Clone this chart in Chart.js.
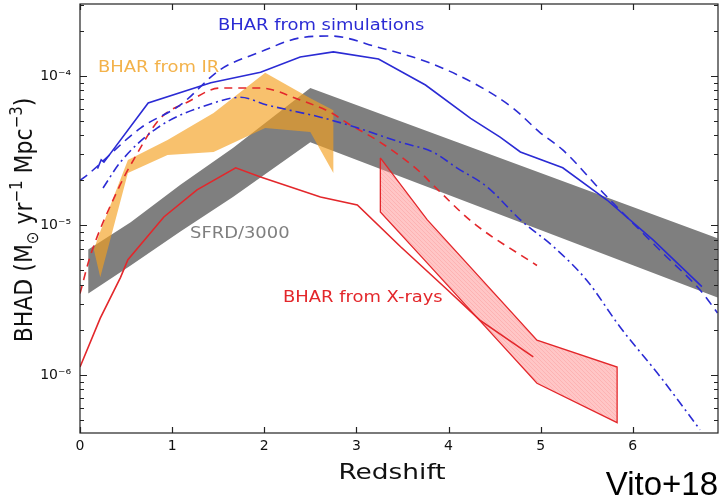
<!DOCTYPE html>
<html>
<head>
<meta charset="utf-8">
<script src="https://cdn.jsdelivr.net/npm/chart.js@4.4.1/dist/chart.umd.min.js"></script>
<style>
  html, body { margin: 0; padding: 0; background: #fff; }
  #wrap { width: 720px; height: 497px; position: relative; }
</style>
</head>
<body>
<div id="wrap"><canvas id="bhadChart"></canvas></div>
<script>
// axis ticks
const zTicks = [0, 1, 2, 3, 4, 5, 6];
const yTicks = [1e-6, 1e-5, 1e-4];
const yTickLabels = ['10⁻⁶', '10⁻⁵', '10⁻⁴'];

// BHAR from simulations (blue): solid, dashed, dash-dot
const simSolidZ = [0.19, 0.23, 0.26, 0.74, 1.42, 1.96, 2.39, 2.75, 3.24, 3.75, 4.24, 4.56, 4.78, 5.24, 5.72, 6.22, 6.75];
const simSolidV = [2.4e-5, 2.75e-5, 2.65e-5, 6.6e-5, 9.0e-5, 1.06e-4, 1.34e-4, 1.45e-4, 1.30e-4, 8.7e-5, 5.2e-5, 3.9e-5, 3.1e-5, 2.43e-5, 1.48e-5, 8.0e-6, 3.9e-6];

const simDashZ = [0.0, 0.08, 0.66, 1.09, 1.52, 1.96, 2.39, 2.72, 3.23, 3.80, 4.31, 4.70, 4.99, 5.24, 5.68, 6.33, 6.73, 6.92];
const simDashV = [2.0e-5, 2.18e-5, 4.5e-5, 6.4e-5, 1.10e-4, 1.45e-4, 1.80e-4, 1.85e-4, 1.56e-4, 1.22e-4, 8.7e-5, 6.1e-5, 4.2e-5, 3.2e-5, 1.65e-5, 6.5e-6, 3.7e-6, 2.6e-6];

const simDotZ = [0.25, 0.44, 0.84, 1.45, 1.74, 2.03, 2.61, 3.01, 3.48, 3.83, 4.09, 4.42, 4.78, 5.14, 5.50, 5.86, 6.30, 6.73];
const simDotV = [1.78e-5, 2.66e-5, 4.5e-5, 6.6e-5, 7.2e-5, 6.4e-5, 5.3e-5, 4.5e-5, 3.6e-5, 3.1e-5, 2.43e-5, 1.81e-5, 1.09e-5, 7.2e-6, 4.3e-6, 2.1e-6, 9.7e-7, 4.3e-7];

// red dashed curve
const redDashZ = [0.0, 0.11, 0.41, 0.58, 0.87, 1.17, 1.52, 1.96, 2.39, 2.72, 2.90, 3.26, 3.69, 3.83, 4.27, 4.96];
const redDashV = [3.5e-6, 6.2e-6, 1.73e-5, 2.74e-5, 5.2e-5, 6.7e-5, 8.3e-5, 8.3e-5, 6.9e-5, 5.7e-5, 4.85e-5, 3.6e-5, 2.28e-5, 1.87e-5, 1.04e-5, 5.4e-6];

// BHAR from X-rays (red solid) and its high-z band
const xrayZ = [0.0, 0.22, 0.44, 0.52, 0.91, 1.27, 1.69, 1.96, 2.61, 3.01, 3.48, 3.99, 4.34, 4.92];
const xrayV = [1.13e-6, 2.4e-6, 4.5e-6, 5.9e-6, 1.14e-5, 1.73e-5, 2.43e-5, 2.11e-5, 1.55e-5, 1.37e-5, 7.2e-6, 3.7e-6, 2.33e-6, 1.32e-6];

const xbandZ = [3.26, 3.77, 4.96, 5.83];
const xbandHi = [2.83e-5, 1.09e-5, 1.71e-6, 1.13e-6];
const xbandLo = [1.23e-5, 5.6e-6, 8.8e-7, 4.8e-7];

// SFRD/3000 band (gray)
const sfrdZ = [0.09, 0.55, 1.09, 1.66, 2.50, 6.92];
const sfrdHi = [6.9e-6, 1.05e-5, 1.87e-5, 3.3e-5, 8.3e-5, 8.2e-6];
const sfrdLo = [3.5e-6, 5.4e-6, 9.1e-6, 1.55e-5, 3.6e-5, 3.3e-6];

// BHAR from IR band (orange)
const irZ = [0.15, 0.22, 0.52, 0.95, 1.45, 2.01, 2.50, 2.75];
const irHi = [6.9e-6, 9.1e-6, 2.74e-5, 3.73e-5, 5.66e-5, 1.05e-4, 7.1e-5, 5.9e-5];
const irLo = [6.9e-6, 4.5e-6, 2.24e-5, 2.96e-5, 3.1e-5, 4.49e-5, 4.22e-5, 2.24e-5];

const BLUE = '#2b2bd4';
const RED = '#e3272b';

function pts(zs, vs) {
    return zs.map((z, i) => ({x: z, y: vs[i]}));
}

// closed outline: upper edge forward, lower edge back
function band(zs, lo, hi) {
    const up = pts(zs, hi);
    const down = pts(zs, lo).reverse();
    return up.concat(down, [up[0]]);
}

function hatchPattern() {
    const c = document.createElement('canvas');
    c.width = 4; c.height = 4;
    const g = c.getContext('2d');
    g.fillStyle = 'rgba(255,120,120,0.42)';
    g.fillRect(0, 0, 4, 4);
    g.strokeStyle = 'rgba(245,90,90,0.18)';
    g.lineWidth = 1;
    g.beginPath();
    g.moveTo(0, 0); g.lineTo(4, 4);
    g.stroke();
    return g.createPattern(c, 'repeat');
}

function lineSet(data, color, dash, smooth) {
    return {
        data: data,
        borderColor: color,
        borderWidth: 1.6,
        borderDash: dash,
        cubicInterpolationMode: smooth ? 'monotone' : 'default',
        pointRadius: 0,
        fill: false,
        order: 1
    };
}

function stretchText(ctx, text, x, y, sx) {
    ctx.save();
    ctx.translate(x, y);
    ctx.scale(sx, 1);
    ctx.fillText(text, 0, 0);
    ctx.restore();
}

// keep the plot box where the reference has it
function noPad(s) {
    s.paddingTop = 0;
    s.paddingBottom = 0;
    s.paddingLeft = 0;
    s.paddingRight = 0;
}

const frame = {
    id: 'frame',
    afterDatasetsDraw(chart) {
        const {ctx, chartArea: a, scales: {x, y}} = chart;
        ctx.save();
        ctx.strokeStyle = '#222';
        ctx.lineWidth = 1.2;
        ctx.strokeRect(a.left, a.top, a.right - a.left, a.bottom - a.top);
        ctx.beginPath();
        zTicks.forEach(z => {
            const px = Math.round(x.getPixelForValue(z)) + 0.5;
            ctx.moveTo(px, a.bottom); ctx.lineTo(px, a.bottom - 6);
            ctx.moveTo(px, a.top); ctx.lineTo(px, a.top + 6);
        });
        for (let e = -7; e <= -4; e++) {
            for (let m = 1; m <= 9; m++) {
                const v = m * Math.pow(10, e);
                if (v < y.min || v > y.max) continue;
                const py = Math.round(y.getPixelForValue(v)) + 0.5;
                const len = m === 1 ? 7 : 4;
                ctx.moveTo(a.left, py); ctx.lineTo(a.left + len, py);
                ctx.moveTo(a.right, py); ctx.lineTo(a.right - len, py);
            }
        }
        ctx.stroke();
        ctx.restore();
    },
    afterDraw(chart) {
        const {ctx, scales: {x, y}} = chart;
        ctx.save();
        ctx.textAlign = 'left';
        ctx.textBaseline = 'alphabetic';
        ctx.font = '16px "DejaVu Sans"';
        ctx.fillStyle = BLUE;
        stretchText(ctx, 'BHAR from simulations', x.getPixelForValue(1.498), y.getPixelForValue(2.03e-4), 1.12);
        ctx.fillStyle = '#f3b24a';
        stretchText(ctx, 'BHAR from IR', x.getPixelForValue(0.195), y.getPixelForValue(1.06e-4), 1.12);
        ctx.fillStyle = '#7f7f7f';
        stretchText(ctx, 'SFRD/3000', x.getPixelForValue(1.194), y.getPixelForValue(8.26e-6), 1.12);
        ctx.fillStyle = RED;
        stretchText(ctx, 'BHAR from X-rays', x.getPixelForValue(2.203), y.getPixelForValue(3.08e-6), 1.12);

        // x title
        ctx.fillStyle = '#111';
        ctx.font = '22px "DejaVu Sans"';
        const w = ctx.measureText('Redshift').width * 1.2;
        stretchText(ctx, 'Redshift', 392 - w / 2, 479, 1.2);

        // y title with sub/superscripts
        const parts = [
            ['BHAD (M', 0, 22], ['⊙', 5, 15], [' yr', 0, 22], ['−1', -9, 15],
            [' Mpc', 0, 22], ['−3', -9, 15], [')', 0, 22]
        ];
        let total = 0;
        parts.forEach(p => {
            ctx.font = p[2] + 'px "DejaVu Sans"';
            total += ctx.measureText(p[0]).width;
        });
        ctx.save();
        ctx.translate(32, 220);
        ctx.rotate(-Math.PI / 2);
        ctx.scale(1, 1.13);
        let cx = -total / 2;
        parts.forEach(p => {
            ctx.font = p[2] + 'px "DejaVu Sans"';
            ctx.fillText(p[0], cx, p[1]);
            cx += ctx.measureText(p[0]).width;
        });
        ctx.restore();

        ctx.font = '33px "Liberation Sans"';
        ctx.textAlign = 'right';
        ctx.fillStyle = '#000';
        ctx.fillText('Vito+18', 718, 495);
        ctx.restore();
    }
};

const ctx = document.getElementById('bhadChart').getContext('2d');
const bhadChart = new Chart(ctx, {
    type: 'line',
    data: {
        datasets: [
            lineSet(pts(simSolidZ, simSolidV), BLUE, [], false),
            lineSet(pts(simDashZ, simDashV), BLUE, [9, 6], true),
            lineSet(pts(simDotZ, simDotV), BLUE, [9, 4, 2, 4], true),
            lineSet(pts(redDashZ, redDashV), RED, [8, 6], true),
            lineSet(pts(xrayZ, xrayV), RED, [], false),
            {
                data: band(xbandZ, xbandLo, xbandHi),
                borderColor: RED,
                borderWidth: 1.3,
                backgroundColor: hatchPattern(),
                pointRadius: 0,
                fill: 'shape',
                order: 2
            },
            {
                data: band(irZ, irLo, irHi),
                borderWidth: 0,
                borderColor: 'rgba(0,0,0,0)',
                backgroundColor: 'rgba(245,160,30,0.65)',
                pointRadius: 0,
                fill: 'shape',
                order: 3
            },
            {
                data: band(sfrdZ, sfrdLo, sfrdHi),
                borderWidth: 0,
                borderColor: 'rgba(0,0,0,0)',
                backgroundColor: '#7f7f7f',
                pointRadius: 0,
                fill: 'shape',
                order: 4
            }
        ]
    },
    options: {
        responsive: true,
        maintainAspectRatio: false,
        animation: false,
        devicePixelRatio: 1,
        layout: { padding: { top: 4, right: 2, left: 0, bottom: 0 } },
        plugins: {
            legend: { display: false },
            tooltip: { enabled: false }
        },
        scales: {
            x: {
                type: 'linear',
                min: 0,
                max: 6.925,
                afterBuildTicks: s => { s.ticks = zTicks.map(v => ({value: v})); },
                afterFit: s => { s.height = 64; noPad(s); },
                grid: { display: false, drawTicks: false },
                border: { display: false },
                ticks: {
                    padding: 5,
                    color: '#111',
                    font: { family: 'DejaVu Sans', size: 14 },
                    callback: v => String(v)
                }
            },
            y: {
                type: 'logarithmic',
                min: 4.09e-7,
                max: 3.03e-4,
                afterBuildTicks: s => { s.ticks = yTicks.map(v => ({value: v})); },
                afterFit: s => { s.width = 80; noPad(s); },
                grid: { display: false, drawTicks: false },
                border: { display: false },
                ticks: {
                    padding: 9,
                    color: '#111',
                    font: { family: 'DejaVu Sans', size: 14 },
                    callback: (v, i) => yTickLabels[i]
                }
            }
        }
    },
    plugins: [frame]
});
</script>
</body>
</html>
